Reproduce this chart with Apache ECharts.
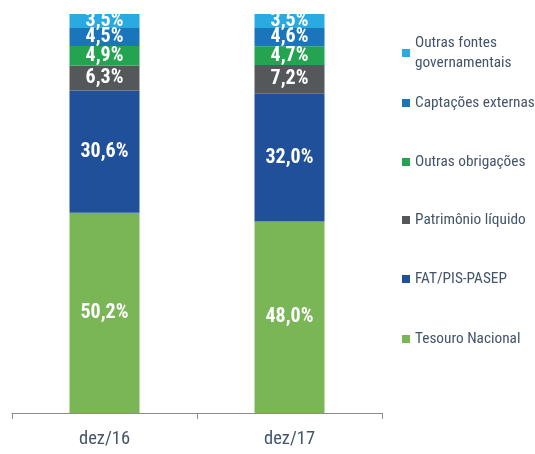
<!DOCTYPE html>
<html><head><meta charset="utf-8">
<script src="https://cdn.jsdelivr.net/npm/echarts@6/dist/echarts.min.js"></script>
<style>html,body{margin:0;padding:0;background:#fff}#c{width:535px;height:454px}</style>
</head><body><div id="c"></div>
<script>
const categories = ['dez/16', 'dez/17'];
const tesouroNacional = [50.2, 48.0];
const fatPisPasep = [30.6, 32.0];
const patrimonioLiquido = [6.3, 7.2];
const outrasObrigacoes = [4.9, 4.7];
const captacoesExternas = [4.5, 4.6];
const outrasFontes = [3.5, 3.5];

const names = ['Tesouro Nacional','FAT/PIS-PASEP','Patrimônio líquido','Outras obrigações','Captações externas','Outras fontes governamentais'];
const legendLabels = {'Outras fontes governamentais':'Outras fontes\ngovernamentais'};
const values = [tesouroNacional, fatPisPasep, patrimonioLiquido, outrasObrigacoes, captacoesExternas, outrasFontes];
const colors = ['#7AB556','#21509A','#54585A','#24A450','#1B75BB','#29ABE2'];
const legendTops = [329, 269, 210, 152, 93, 33];
const FONT = "'Roboto Condensed', 'Liberation Sans', sans-serif";

const chart = echarts.init(document.getElementById('c'), null, {renderer:'canvas'});
const fmt = v => v.toFixed(1).replace('.', ',') + '%';
const series = names.map((n,i)=>({
  name:n, type:'bar', stack:'total', barWidth:70,
  data: values[i],
  itemStyle:{color:colors[i]},
  label:{show:true, position:'inside', color:'#fff', fontFamily:FONT, fontWeight:'bold', fontSize:20,
    formatter:p=>fmt(p.value)},
  emphasis:{disabled:true}
}));
const legends = names.map((n,i)=>({
  data:[n], orient:'vertical', left:402, top:legendTops[i], padding:0,
  itemWidth:8, itemHeight:8, icon:'rect', selectedMode:false,
  formatter: name => legendLabels[name] || name,
  textStyle:{fontFamily:FONT, fontSize:15.3, color:'#44546A', lineHeight:20}
}));
chart.setOption({
  animation:false,
  grid:{left:12, right:153, top:14, bottom:41},
  legend: legends,
  xAxis:{type:'category', data:categories,
    axisLine:{lineStyle:{color:'#8c8c8c', width:1}},
    axisTick:{show:true, length:6, lineStyle:{color:'#8c8c8c'}},
    axisLabel:{fontFamily:FONT, fontSize:18.5, color:'#44546A', margin:17}},
  yAxis:{type:'value', min:0, max:100, show:false, splitLine:{show:false}},
  series: series
});
</script></body></html>
